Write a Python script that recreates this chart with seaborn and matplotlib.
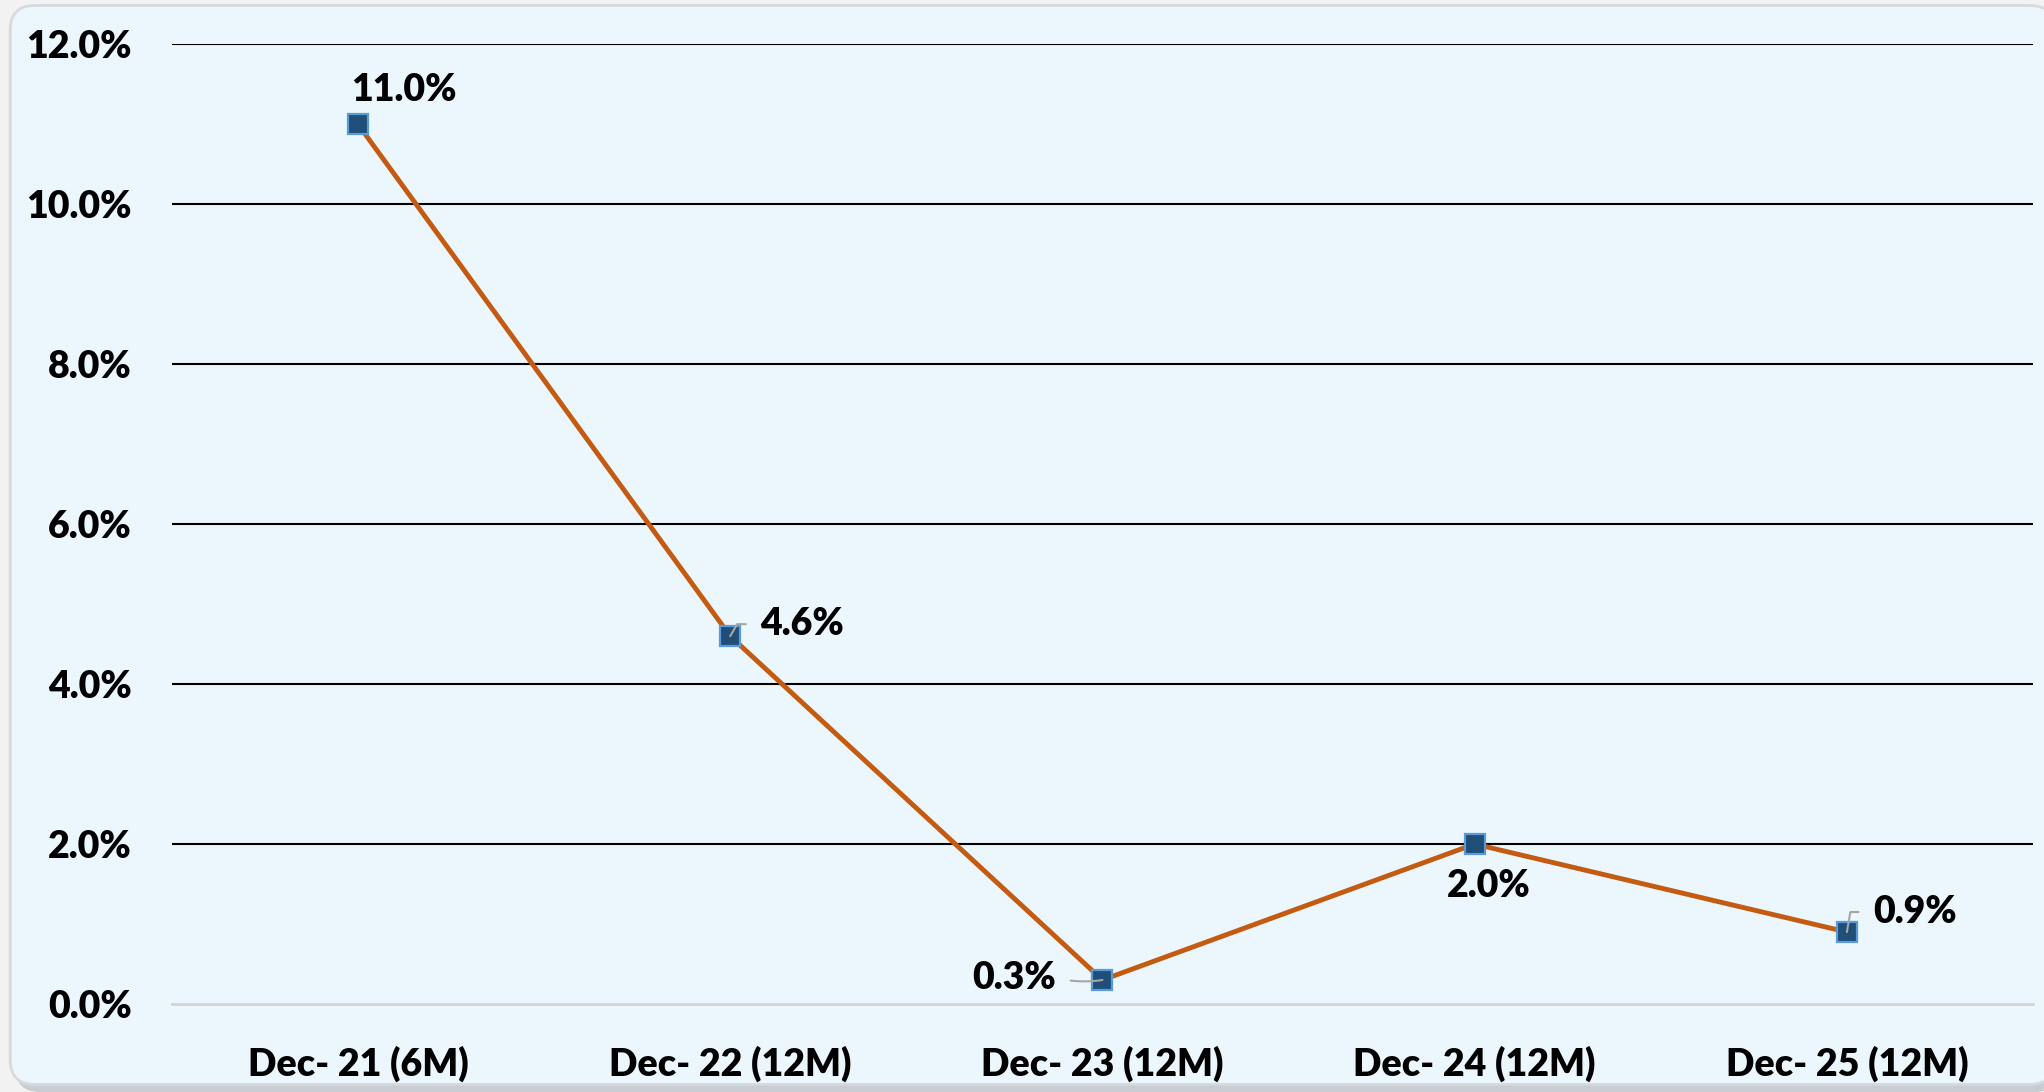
import numpy as np
import pandas as pd
import seaborn as sns
import matplotlib.pyplot as plt
from matplotlib.patches import FancyBboxPatch

#-- Data. --#
categories = ["Dec- 21 (6M)", "Dec- 22 (12M)", "Dec- 23 (12M)", "Dec- 24 (12M)", "Dec- 25 (12M)"]
values = [0.110, 0.046, 0.003, 0.020, 0.009]
labels = ["11.0%", "4.6%", "0.3%", "2.0%", "0.9%"]
y_ticks = [0.0, 0.02, 0.04, 0.06, 0.08, 0.10, 0.12]

sns.set_theme(style="white")
plt.rcParams['font.family'] = ['Lato', 'DejaVu Sans']
plt.rcParams['font.weight'] = 'heavy'

fig = plt.figure(figsize=(20.44, 10.92), dpi=100, facecolor="#F2F2F2")

#-- Rounded panel behind the chart. --#
asp = 20.44 / 10.92
shadow = FancyBboxPatch((0.0075, 0.0), 1.0, 0.99, boxstyle="round,pad=0,rounding_size=0.012",
                        mutation_aspect=asp, transform=fig.transFigure,
                        facecolor="#C8CDD3", edgecolor="none", zorder=-3)
panel = FancyBboxPatch((0.005, 0.007), 1.0, 0.988, boxstyle="round,pad=0,rounding_size=0.012",
                       mutation_aspect=asp, transform=fig.transFigure,
                       facecolor="#EBF7FD", edgecolor="#D6DADF", linewidth=2, zorder=-2)
fig.patches.extend([shadow, panel])

ax = fig.add_axes([0.0841, 0.0806, 0.9105, 0.8788])
ax.set_facecolor("none")

df = pd.DataFrame({"x": np.arange(len(categories)), "value": values})
sns.lineplot(data=df, x="x", y="value", ax=ax, color="#C55A11", linewidth=3.5,
             marker="s", markersize=15, markerfacecolor="#1F4E79",
             markeredgecolor="#5B9BD5", markeredgewidth=1.6, zorder=3)

ax.set_xlim(-0.5, len(categories) - 0.5)
ax.set_ylim(0, 0.12)
ax.set_xticks(np.arange(len(categories)))
ax.set_xticklabels(categories)
ax.set_yticks(y_ticks)
ax.set_yticklabels([f"{v * 100:.1f}%" for v in y_ticks])
ax.set_xlabel("")
ax.set_ylabel("")
ax.tick_params(axis="both", length=0, labelsize=27, colors="black")
ax.tick_params(axis="y", pad=29)
ax.tick_params(axis="x", pad=30)
for t in ax.get_xticklabels() + ax.get_yticklabels():
    t.set_fontweight("heavy")

ax.yaxis.grid(True, color="black", linewidth=1.5)
ax.get_ygridlines()[0].set_visible(False)
for s in ["top", "left", "right"]:
    ax.spines[s].set_visible(False)
ax.spines["bottom"].set_color("#D3D3D3")
ax.spines["bottom"].set_linewidth(2)

#-- Data labels (offsets in pixels). --#
lbl = dict(fontsize=27, fontweight="heavy", color="black", textcoords="offset pixels", zorder=5)
lead = dict(arrowstyle="-", color="#A6A6A6", lw=1.5, shrinkB=0)

ax.annotate(labels[0], (0, values[0]), xytext=(46, 34), ha="center", va="center", **lbl)
ax.annotate(labels[1], (1, values[1]), xytext=(30, 12), ha="left", va="center",
            arrowprops=dict(**lead, shrinkA=8, relpos=(0, 0.5),
                            connectionstyle="angle,angleA=0,angleB=60,rad=0"), **lbl)
ax.annotate(labels[2], (2, values[2]), xytext=(-46, 2), ha="right", va="center",
            arrowprops=dict(**lead, shrinkA=8, relpos=(1, 0.5),
                            connectionstyle="arc3,rad=0.1"), **lbl)
ax.annotate(labels[3], (3, values[3]), xytext=(14, -42), ha="center", va="center", **lbl)
ax.annotate(labels[4], (4, values[4]), xytext=(26, 20), ha="left", va="center",
            arrowprops=dict(**lead, shrinkA=8, relpos=(0, 0.5),
                            connectionstyle="angle,angleA=0,angleB=80,rad=0"), **lbl)

fig.savefig("out.png", dpi=100, facecolor=fig.get_facecolor())
